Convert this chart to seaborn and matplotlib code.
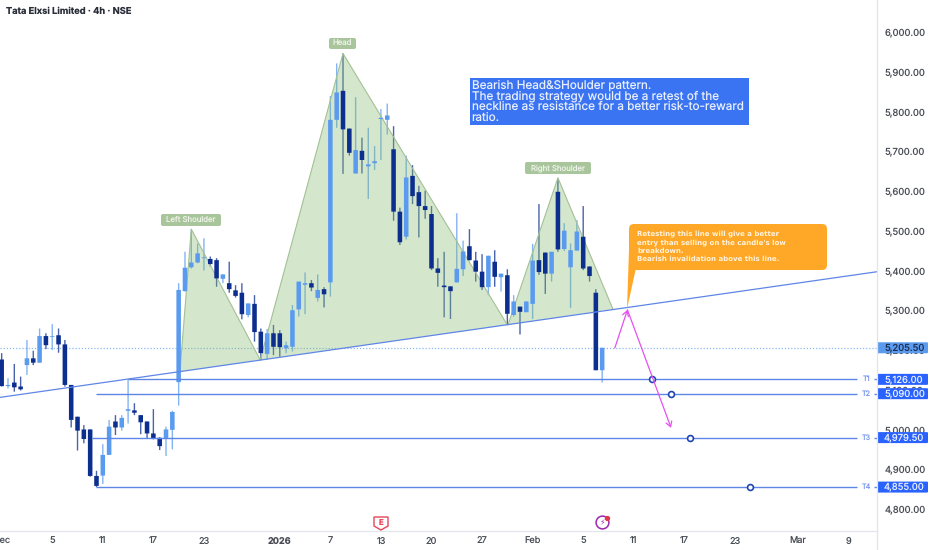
import numpy as np
import pandas as pd
import matplotlib
matplotlib.use("Agg")
import matplotlib.pyplot as plt
from matplotlib.patches import FancyBboxPatch, Polygon
from matplotlib.lines import Line2D
import seaborn as sns

# candle values, one entry per 4h bar
opens = [5176, 5109, 5118, 5108, 5162, 5179, 5168, 5235, 5233, 5237, 5214, 5112, 5032, 5000, 5000, 4883,
         4884, 4936, 5020, 5005, 5047, 5048, 5036, 5020, 4990, 4979, 4977, 4999, 5119, 5348, 5408, 5420,
         5431, 5429, 5426, 5379, 5368, 5350, 5344, 5288, 5316, 5246, 5190, 5242, 5242, 5204, 5208, 5302,
         5364, 5368, 5331, 5353, 5370, 5779, 5852, 5757, 5644, 5701, 5662, 5670, 5781, 5779, 5705, 5548,
         5485, 5638, 5597, 5562, 5542, 5405, 5362, 5360, 5370, 5403, 5461, 5425, 5397, 5358, 5422, 5383,
         5388, 5288, 5309, 5295, 5316, 5426, 5445, 5392, 5598, 5454, 5408, 5450, 5485, 5410, 5344, 5149]
highs = [5192, 5129, 5165, 5133, 5225, 5198, 5254, 5242, 5265, 5254, 5225, 5112, 5032, 5011, 5000, 4896,
         4963, 5024, 5036, 5036, 5125, 5066, 5036, 5020, 5051, 4980, 5007, 5047, 5368, 5447, 5503, 5468,
         5481, 5435, 5431, 5390, 5422, 5363, 5368, 5317, 5338, 5254, 5253, 5263, 5250, 5221, 5313, 5372,
         5395, 5376, 5390, 5358, 5839, 5921, 5946, 5757, 5836, 5734, 5759, 5713, 5806, 5820, 5763, 5558,
         5689, 5665, 5613, 5601, 5562, 5431, 5447, 5360, 5544, 5475, 5504, 5447, 5441, 5437, 5451, 5392,
         5403, 5338, 5309, 5322, 5467, 5567, 5445, 5447, 5632, 5519, 5468, 5527, 5562, 5410, 5353, 5205.5]
lows = [5108, 5103, 5095, 5098, 5137, 5162, 5168, 5202, 5200, 5193, 5108, 5005, 4947, 4965, 4881, 4855,
        4863, 4936, 4986, 4997, 5015, 5036, 4988, 4977, 4975, 4948, 4933, 4950, 5060, 5347, 5405, 5418,
        5400, 5410, 5359, 5368, 5344, 5332, 5277, 5282, 5221, 5175, 5176, 5187, 5183, 5192, 5196, 5284,
        5290, 5348, 5322, 5307, 5334, 5759, 5643, 5689, 5644, 5644, 5580, 5653, 5678, 5742, 5525, 5464,
        5478, 5567, 5483, 5530, 5401, 5359, 5282, 5278, 5370, 5386, 5425, 5372, 5351, 5338, 5359, 5347,
        5265, 5284, 5239, 5295, 5278, 5389, 5341, 5372, 5447, 5449, 5306, 5450, 5401, 5372, 5149, 5118]
closes = [5109, 5112, 5106, 5101, 5179, 5168, 5235, 5212, 5235, 5214, 5112, 5024, 4997, 4976, 4883, 4858,
          4936, 5007, 5005, 5029, 5051, 5042, 5018, 4990, 4977, 4958, 5000, 5044, 5351, 5407, 5420, 5443,
          5433, 5416, 5380, 5390, 5353, 5336, 5290, 5317, 5245, 5192, 5242, 5208, 5207, 5212, 5300, 5372,
          5368, 5357, 5351, 5340, 5779, 5848, 5755, 5696, 5703, 5678, 5667, 5675, 5784, 5790, 5548, 5471,
          5634, 5587, 5562, 5552, 5405, 5394, 5358, 5348, 5404, 5448, 5426, 5397, 5358, 5437, 5384, 5392,
          5291, 5322, 5296, 5322, 5425, 5396, 5392, 5447, 5453, 5500, 5451, 5498, 5405, 5386, 5149, 5205.5]

# pattern and trade levels, bar number / price
neck_x = [-1, 139]
neck_y = [5079, 5398]
left_x = [28.2, 30, 40.9]
left_y = [5145, 5504, 5175]
head_x = [40.9, 54, 80]
head_y = [5175, 5946, 5263]
right_x = [80.1, 88, 96.7]
right_y = [5263, 5633, 5303]
target_names = ["T1", "T2", "T3", "T4"]
target_prices = [5126.0, 5090.0, 4979.5, 4855.0]
target_start = [20, 15, 14.3, 15]
target_dots = [102.9, 105.9, 108.9, 118.4]
path_x = [97, 99, 105.9]
path_y = [5205, 5301, 5004]
last_price = 5205.5

price_ticks = [4800, 4900, 5000, 5100, 5200, 5300, 5400, 5500, 5600, 5700, 5800, 5900, 6000]
date_ticks = [0, 8, 16, 24, 32, 44, 52, 60, 68, 76, 84, 92, 100, 108, 116, 126, 134]
date_labels = ["Dec", "5", "11", "17", "23", "2026", "7", "13", "20", "27", "Feb", "5", "11", "17", "23", "Mar", "9"]

UP = "#5b9bef"
DOWN = "#0c2f8f"
LINE = "#5f86e6"
BADGE = "#2962ff"

sns.set_theme(style="white")
plt.rcParams["font.family"] = ["Inter", "DejaVu Sans"]
plt.rcParams["text.hinting"] = "no_hinting"
plt.rcParams["text.hinting_factor"] = 1

df = pd.DataFrame({"open": opens, "high": highs, "low": lows, "close": closes})
df["bar"] = df.index
df["base"] = df[["open", "close"]].min(axis=1)
df["body"] = (df["close"] - df["open"]).abs()
df["rising"] = df["close"] >= df["open"]

fig = plt.figure(figsize=(9.32, 5.5), dpi=100)
ax = fig.add_axes([0, 19 / 550, 876.5 / 932, 531 / 550])

ax.axhline(last_price, color=UP, lw=0.9, ls=(0, (1, 1.5)), alpha=0.7, zorder=1)

for rising, color in [(True, UP), (False, DOWN)]:
    part = df[df["rising"] == rising]
    wicks = ax.vlines(part["bar"], part["low"], part["high"], color=color, lw=1.0, alpha=0.75, zorder=2)
    wicks.set_snap(False)
    sns.barplot(data=part, x="bar", y="body", bottom=part["base"].values, native_scale=True,
                color=color, width=0.72, errorbar=None, saturation=1, linewidth=0, ax=ax, zorder=3)
for bar in ax.patches:
    bar.set_snap(False)

# the green tint goes over the wicks but under the candle bodies
for xs, ys in [(left_x, left_y), (head_x, head_y), (right_x, right_y)]:
    ax.add_patch(Polygon(list(zip(xs, ys)), closed=True, fc="#7fb866", ec="none", alpha=0.33, zorder=2.5))
    ax.plot(xs[:2] + xs[1:], ys[:2] + ys[1:], color="#a4c096", lw=0.8, zorder=2.6)

sns.lineplot(x=neck_x, y=neck_y, color=LINE, lw=0.9, ax=ax, zorder=5)

for name, price, start in zip(target_names, target_prices, target_start):
    ax.hlines(price, start, 135.3, color=LINE, lw=1.0, zorder=5)
    ax.hlines(price, 138, 138.4, color=LINE, lw=1.0, zorder=5)
    ax.text(136.8, price, name, color="#7d9bee", fontsize=5.2, ha="center", va="center", zorder=6)
sns.scatterplot(x=target_dots, y=target_prices, s=18, facecolor="white", edgecolor="#1f45b5",
                linewidth=1.2, ax=ax, zorder=7)

# magenta path, arrow on each leg
for i in range(2):
    ax.annotate("", xy=(path_x[i + 1], path_y[i + 1]), xytext=(path_x[i], path_y[i]),
                arrowprops=dict(arrowstyle="->,head_length=0.3,head_width=0.18", color="#e650f0", lw=0.9,
                                shrinkA=0, shrinkB=0), zorder=8)

ax.set_xlim(-0.264, 138.4)
ax.set_ylim(4744.5, 6080.5)
ax.set_xlabel("")
ax.set_ylabel("")
ax.yaxis.tick_right()
ax.set_yticks(price_ticks)
ax.set_yticklabels([f"{p:,.2f}" for p in price_ticks], fontsize=6.8, color="#4a4e57", ha="left")
ax.set_xticks(date_ticks)
ax.set_xticklabels(date_labels, fontsize=6.6, color="#4a4e57")
ax.get_xticklabels()[5].set_fontweight("bold")
ax.tick_params(axis="y", length=0, pad=6)
ax.tick_params(axis="x", length=0, pad=4)
for side in ["left", "top", "right"]:
    ax.spines[side].set_visible(False)
ax.spines["bottom"].set_color("#e3e5ec")
ax.spines["bottom"].set_linewidth(0.9)
fig.add_artist(Line2D([876.5 / 932] * 2, [0, 1], color="#e3e5ec", lw=0.9))

# overlay in pixels for the notes and price badges
ov = fig.add_axes([0, 0, 1, 1], facecolor="none")
ov.set_xlim(0, 932)
ov.set_ylim(550, 0)
ov.axis("off")


def price_y(price):
    return 550 - ax.transData.transform((0, price))[1]


def pill(x0, y0, x1, y1, color, radius=2):
    ov.add_patch(FancyBboxPatch((x0 + radius, y0 + radius), x1 - x0 - 2 * radius, y1 - y0 - 2 * radius,
                                boxstyle=f"round,pad={radius},rounding_size={radius}", fc=color, ec="none"))


fig.text(6 / 932, 1 - 11 / 550, "Tata Elxsi Limited · 4h · NSE", fontsize=6.7, fontweight="bold",
         color="#2a2e39", va="center", ha="left")

for label, x0, y0, x1, y1 in [("Left Shoulder", 161, 214, 221, 226), ("Head", 329, 38, 356, 49),
                              ("Right Shoulder", 525, 162, 591, 174)]:
    pill(x0, y0, x1, y1, "#a9c59b")
    ov.text((x0 + x1) / 2, (y0 + y1) / 2, label, fontsize=5.6, color="#eef4ea", ha="center", va="center")

ov.add_patch(plt.Rectangle((470, 78), 279, 47, fc="#3b74f2", ec="none"))
for y, line in zip([85, 96, 107, 118], ["Bearish Head&SHoulder pattern.",
                                        "The trading strategy would be a retest of the",
                                        "neckline as resistance for a better risk-to-reward",
                                        "ratio."]):
    ov.text(471.5, y, line, fontsize=8.45, color="#e8effd", ha="left", va="center")

ov.add_patch(Polygon([(629, 250), (627, 309), (636, 268)], closed=True, fc="#ffa726", ec="none"))
pill(629, 224, 827, 270, "#ffa726", radius=5)
for y, line in zip([234, 243, 251, 259], ["Retesting this line will give a better",
                                          "entry than selling on the candle's low",
                                          "breakdown.",
                                          "Bearish invalidation above this line."]):
    ov.text(637, y, line, fontsize=5.4, fontweight="bold", color="#fff3dd", ha="left", va="center",
            family="DejaVu Sans")

pill(877, price_y(last_price) - 5.5, 928, price_y(last_price) + 5.5, UP, radius=1)
ov.text(884, price_y(last_price), f"{last_price:,.2f}", fontsize=6.8, color="#1d2c4d", ha="left", va="center")
for price in target_prices:
    pill(877, price_y(price) - 5.5, 928, price_y(price) + 5.5, BADGE, radius=1)
    ov.text(884, price_y(price), f"{price:,.2f}", fontsize=6.8, color="#e8effd", ha="left", va="center")

# earnings and dividend style event flags on the time axis
ov.add_patch(Polygon([(374, 517), (388, 517), (388, 526), (381, 530), (374, 526)], closed=True,
                     fc="white", ec="#e5475a", lw=1))
ov.text(381, 522.5, "E", fontsize=5.6, fontweight="bold", color="#e5475a", ha="center", va="center")
ov.scatter([602], [522], s=85, fc="white", ec="#9c27b0", lw=1.1)
ov.text(602, 522.5, "⚡", fontsize=6, color="#9c27b0", ha="center", va="center", family="DejaVu Sans")
ov.scatter([607], [518], s=8, color="#e5354a")

fig.savefig("out.png", dpi=100)
